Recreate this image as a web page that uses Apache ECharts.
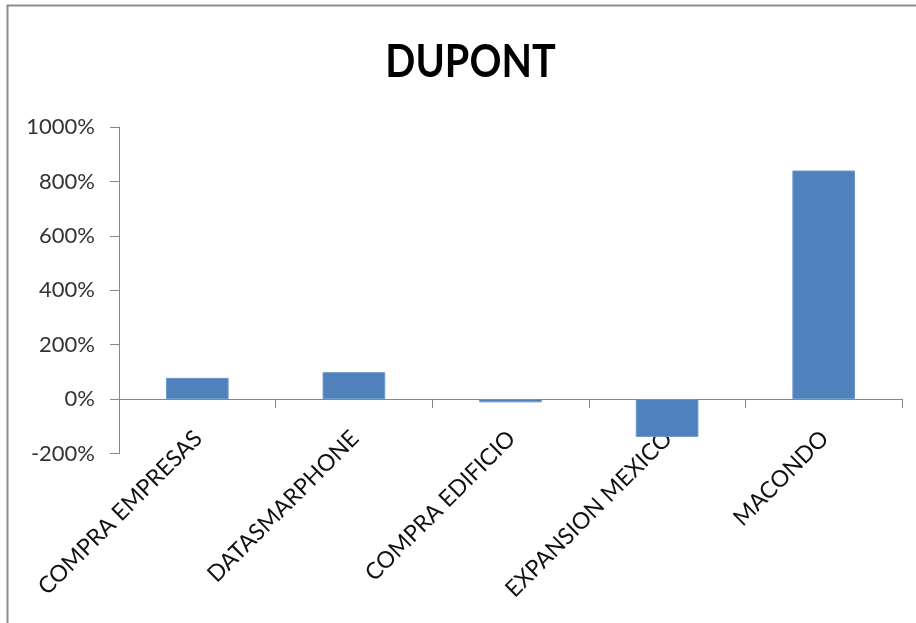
<!DOCTYPE html>
<html>
<head>
<meta charset="utf-8">
<script src="https://cdn.jsdelivr.net/npm/echarts@6/dist/echarts.min.js"></script>
<style>
  html, body { margin: 0; padding: 0; background: #fff; }
  #chart { width: 916px; height: 623px; }
</style>
</head>
<body>
<div id="chart"></div>
<script>
// Proyectos evaluados y su resultado DuPont (en %)
const proyectos = ['COMPRA EMPRESAS', 'DATASMARPHONE', 'COMPRA EDIFICIO', 'EXPANSION MEXICO', 'MACONDO'];
const dupont = [78, 99, -12, -139, 840];
const ejeMin = -200;
const ejeMax = 1000;
const ejePaso = 200;
const titulo = 'DUPONT';

const chart = echarts.init(document.getElementById('chart'), null, { renderer: 'canvas' });

const gris = '#868686';
const fuente = 'Lato, "Open Sans", sans-serif';

chart.setOption({
  backgroundColor: '#ffffff',
  animation: false,
  graphic: [{
    // marco del área del gráfico
    type: 'rect',
    silent: true,
    shape: { x: 7.5, y: 5.5, width: 1000, height: 1000 },
    style: { fill: 'none', stroke: '#8c8c8c', lineWidth: 2 }
  }, {
    // título, algo estrecho y alto
    type: 'text',
    silent: true,
    x: 470.5,
    y: 62,
    scaleX: 0.88,
    style: {
      text: titulo,
      align: 'center',
      verticalAlign: 'middle',
      font: 'bold 45px Lato, "Open Sans", sans-serif',
      fill: '#000000'
    }
  }],
  grid: {
    left: 119,
    right: 14,
    top: 127,
    bottom: 169.5,
    containLabel: false,
    outerBoundsMode: 'none'
  },
  xAxis: {
    type: 'category',
    data: proyectos,
    boundaryGap: true,
    axisLine: { onZero: true, lineStyle: { color: gris, width: 1 } },
    axisTick: { show: true, length: 9, inside: false, alignWithLabel: false, lineStyle: { color: gris } },
    axisLabel: {
      rotate: 45,
      margin: -34,
      padding: [0, 10, 0, 0],
      interval: 0,
      verticalAlign: 'top',
      align: 'right',
      fontFamily: fuente,
      fontSize: 23,
      color: '#111111'
    },
    splitLine: { show: false }
  },
  yAxis: {
    type: 'value',
    min: ejeMin,
    max: ejeMax,
    interval: ejePaso,
    axisLine: { show: true, lineStyle: { color: gris, width: 1 } },
    axisTick: { show: true, length: 9, lineStyle: { color: gris } },
    axisLabel: {
      margin: 24,
      fontFamily: fuente,
      fontSize: 22,
      color: '#333333',
      formatter: v => v + '%'
    },
    splitLine: { show: false }
  },
  series: [{
    type: 'bar',
    data: dupont,
    barCategoryGap: '60%',
    itemStyle: {
      color: '#4f81bd',
      borderColor: '#6b96c9',
      borderWidth: 1
    }
  }]
});
</script>
</body>
</html>
